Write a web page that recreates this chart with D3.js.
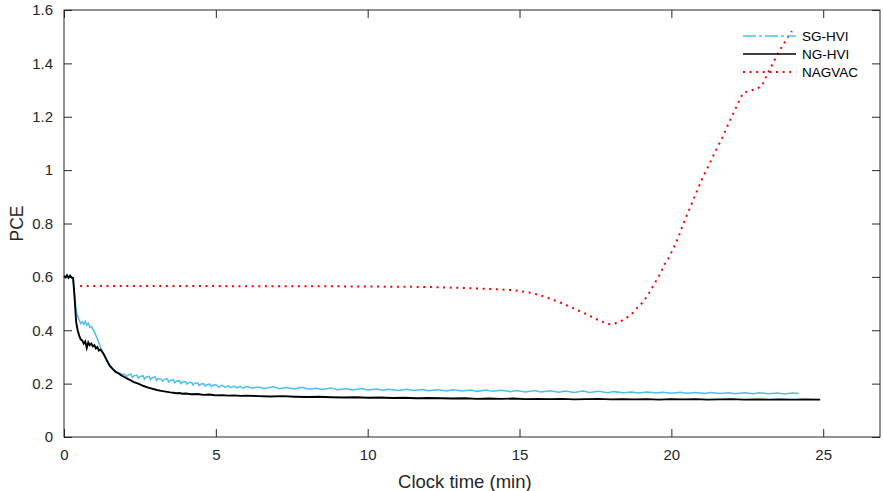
<!DOCTYPE html>
<html>
<head>
<meta charset="utf-8">
<script src="https://cdn.jsdelivr.net/npm/d3@7"></script>
<style>
  body { margin: 0; background: #fff; }
  svg { font-family: "Liberation Sans", Arial, sans-serif; }
  .axis text { fill: #262626; font-size: 15px; }
  .axis path, .axis line { stroke: #262626; }
</style>
</head>
<body>
<div class="chart-container"></div>
<script>
// [time (min), PCE]
var sgHvi = [
  [0.0,0.602],[0.1,0.597],[0.2,0.603],[0.3,0.590],[0.4,0.470],[0.5,0.438],[0.55,0.425],[0.6,0.432],
  [0.65,0.422],[0.7,0.434],[0.75,0.418],[0.8,0.426],[0.85,0.412],[0.9,0.414],[1.0,0.394],[1.1,0.368],
  [1.2,0.336],[1.3,0.312],[1.4,0.288],[1.5,0.266],[1.6,0.255],[1.7,0.246],[1.8,0.241],[1.9,0.236],
  [2.0,0.234],[2.05,0.226],[2.1,0.231],[2.2,0.236],[2.25,0.223],[2.3,0.229],[2.4,0.232],[2.45,0.220],
  [2.5,0.226],[2.6,0.230],[2.65,0.217],[2.7,0.224],[2.8,0.227],[2.85,0.215],[2.9,0.222],[3.0,0.225],
  [3.05,0.212],[3.1,0.219],[3.2,0.217],[3.25,0.209],[3.3,0.216],[3.4,0.218],[3.45,0.206],[3.5,0.212],
  [3.6,0.214],[3.65,0.203],[3.7,0.209],[3.8,0.211],[3.85,0.200],[3.9,0.206],[4.0,0.208],[4.05,0.198],
  [4.1,0.203],[4.2,0.205],[4.25,0.195],[4.3,0.201],[4.4,0.203],[4.45,0.193],[4.5,0.198],[4.6,0.200],
  [4.65,0.191],[4.7,0.196],[4.8,0.198],[4.85,0.189],[4.9,0.194],[5.0,0.196],[5.1,0.187],[5.2,0.194],
  [5.3,0.186],[5.4,0.192],[5.5,0.185],[5.6,0.191],[5.7,0.184],[5.8,0.190],[5.9,0.183],[6.0,0.189],
  [6.2,0.184],[6.4,0.187],[6.6,0.182],[6.9,0.188],[7.1,0.181],[7.3,0.185],[7.6,0.180],[7.8,0.186],
  [8.1,0.179],[8.3,0.183],[8.5,0.178],[8.8,0.184],[9.0,0.177],[9.3,0.181],[9.5,0.176],[9.8,0.182],
  [10.0,0.176],[10.3,0.180],[10.5,0.175],[10.7,0.179],[11.0,0.174],[11.3,0.179],[11.5,0.174],[11.8,0.178],
  [12.0,0.173],[12.3,0.177],[12.6,0.172],[12.8,0.177],[13.1,0.172],[13.4,0.176],[13.6,0.171],[13.9,0.176],
  [14.1,0.171],[14.4,0.175],[14.7,0.170],[14.9,0.174],[15.2,0.169],[15.5,0.174],[15.7,0.169],[16.0,0.173],
  [16.3,0.168],[16.5,0.172],[16.8,0.167],[17.1,0.172],[17.3,0.167],[17.6,0.171],[17.9,0.166],[18.1,0.170],
  [18.4,0.166],[18.7,0.169],[18.9,0.165],[19.2,0.169],[19.5,0.165],[19.7,0.168],[20.0,0.164],[20.3,0.168],
  [20.5,0.164],[20.8,0.167],[21.1,0.163],[21.3,0.167],[21.6,0.163],[21.9,0.166],[22.1,0.162],[22.4,0.166],
  [22.7,0.162],[22.9,0.166],[23.2,0.162],[23.5,0.165],[23.7,0.161],[24.0,0.165],[24.2,0.163]
];

var ngHvi = [
  [0.0,0.604],[0.05,0.598],[0.1,0.606],[0.15,0.597],[0.2,0.605],[0.25,0.598],[0.3,0.596],[0.35,0.520],
  [0.4,0.430],[0.45,0.400],[0.5,0.380],[0.55,0.366],[0.6,0.362],[0.65,0.350],[0.7,0.358],[0.75,0.334],
  [0.8,0.354],[0.85,0.344],[0.9,0.350],[0.95,0.340],[1.0,0.344],[1.05,0.332],[1.1,0.337],[1.15,0.324],
  [1.2,0.328],[1.3,0.312],[1.4,0.290],[1.5,0.268],[1.6,0.255],[1.7,0.244],[1.8,0.238],[1.9,0.230],
  [2.0,0.224],[2.1,0.218],[2.2,0.212],[2.3,0.206],[2.4,0.202],[2.5,0.197],[2.6,0.192],[2.7,0.188],
  [2.8,0.184],[2.9,0.181],[3.0,0.178],[3.1,0.175],[3.2,0.173],[3.3,0.171],[3.4,0.169],[3.5,0.167],
  [3.6,0.166],[3.7,0.164],[3.8,0.165],[3.9,0.162],[4.0,0.163],[4.2,0.160],[4.4,0.161],[4.6,0.158],
  [4.8,0.159],[5.0,0.156],[5.2,0.157],[5.4,0.155],[5.6,0.156],[5.8,0.154],[6.0,0.155],
  [6.4,0.153],[6.8,0.152],[7.2,0.153],[7.6,0.151],[8.0,0.150],[8.4,0.151],[8.8,0.149],[9.2,0.148],
  [9.6,0.149],[10.0,0.147],[10.4,0.148],[10.8,0.146],[11.2,0.147],[11.6,0.145],[12.0,0.146],[12.4,0.145],
  [12.8,0.144],[13.2,0.145],[13.6,0.143],[14.0,0.144],[14.4,0.143],[14.8,0.144],[15.2,0.142],[15.6,0.143],
  [16.0,0.142],[16.4,0.143],[16.8,0.141],[17.2,0.142],[17.6,0.143],[18.0,0.141],[18.4,0.142],[18.8,0.141],
  [19.2,0.142],[19.6,0.140],[20.0,0.142],[20.4,0.141],[20.8,0.142],[21.2,0.140],[21.6,0.141],[22.0,0.142],
  [22.4,0.140],[22.8,0.141],[23.2,0.140],[23.6,0.141],[24.0,0.140],[24.4,0.141],[24.9,0.140]
];

var nagvac = [
  [0.53,0.566],[2,0.566],[4,0.566],[6,0.565],[8,0.565],[10,0.564],[11,0.563],[12,0.562],
  [13,0.559],[14,0.555],[14.8,0.550],[15.4,0.540],[15.8,0.527],[16.2,0.510],[16.46,0.498],[16.69,0.487],
  [16.89,0.476],[17.12,0.465],[17.32,0.453],[17.52,0.442],[17.75,0.431],[17.95,0.423],[18.1,0.424],[18.3,0.432],
  [18.5,0.444],[18.74,0.466],[18.9,0.487],[19.07,0.506],[19.2,0.528],[19.33,0.551],[19.43,0.573],[19.56,0.596],
  [19.66,0.618],[19.76,0.644],[19.89,0.667],[19.99,0.689],[20.2,0.74],[20.4,0.80],[20.6,0.855],[20.8,0.91],
  [21.06,0.979],[21.27,1.027],[21.47,1.075],[21.67,1.12],[21.86,1.169],[22.06,1.218],[22.26,1.266],[22.36,1.289],
  [22.55,1.296],[22.79,1.304],[22.98,1.315],[23.08,1.341],[23.28,1.386],[23.48,1.431],[23.61,1.457],[23.84,1.499],
  [23.97,1.521]
];

var xTicks = [0, 5, 10, 15, 20, 25];
var yTicks = [0, 0.2, 0.4, 0.6, 0.8, 1, 1.2, 1.4, 1.6];
var seriesNames = ['SG-HVI', 'NG-HVI', 'NAGVAC'];

var margin = {top: 10, right: 3, bottom: 54, left: 64};
var width = 883 - margin.left - margin.right;
var height = 491 - margin.top - margin.bottom;

var x = d3.scaleLinear().domain([0, 26.87]).range([margin.left, margin.left + width]);
var y = d3.scaleLinear().domain([0, 1.6]).range([margin.top + height, margin.top]);

var svg = d3.select('.chart-container').append('svg')
  .attr('width', 883)
  .attr('height', 491);

var line = d3.line()
  .x(d => x(d[0]))
  .y(d => y(d[1]));

var tickLen = 8;

// axes, ticks pointing inward, mirrored on top/right
var gX = svg.append('g').attr('class', 'axis')
  .attr('transform', `translate(0,${margin.top + height})`)
  .call(d3.axisBottom(x).tickValues(xTicks).tickSizeInner(-tickLen).tickSizeOuter(0).tickPadding(12));
var gXt = svg.append('g').attr('class', 'axis')
  .attr('transform', `translate(0,${margin.top})`)
  .call(d3.axisTop(x).tickValues(xTicks).tickSizeInner(-tickLen).tickSizeOuter(0).tickFormat(''));
var gY = svg.append('g').attr('class', 'axis')
  .attr('transform', `translate(${margin.left},0)`)
  .call(d3.axisLeft(y).tickValues(yTicks).tickSizeInner(-tickLen).tickSizeOuter(0).tickPadding(11).tickFormat(d3.format('~g')));
var gYr = svg.append('g').attr('class', 'axis')
  .attr('transform', `translate(${margin.left + width},0)`)
  .call(d3.axisRight(y).tickValues(yTicks).tickSizeInner(-tickLen).tickSizeOuter(0).tickFormat(''));
svg.selectAll('.axis path.domain').remove();

svg.append('rect')
  .attr('x', margin.left).attr('y', margin.top)
  .attr('width', width).attr('height', height)
  .attr('fill', 'none').attr('stroke', '#262626');

svg.append('path').datum(sgHvi)
  .attr('d', line)
  .attr('fill', 'none')
  .attr('stroke', '#4DBEEE')
  .attr('stroke-width', 1.5);

svg.append('path').datum(ngHvi)
  .attr('d', line)
  .attr('fill', 'none')
  .attr('stroke', '#000')
  .attr('stroke-width', 1.9);

svg.append('path').datum(nagvac)
  .attr('d', line)
  .attr('fill', 'none')
  .attr('stroke', '#FF0000')
  .attr('stroke-width', 2)
  .attr('stroke-dasharray', '2,4.6');

// labels
svg.append('text')
  .attr('x', x(13.2)).attr('y', 488)
  .attr('text-anchor', 'middle')
  .attr('fill', '#262626').attr('font-size', 18.5)
  .text('Clock time (min)');

svg.append('text')
  .attr('transform', `translate(23,${y(0.8)}) rotate(-90)`)
  .attr('text-anchor', 'middle')
  .attr('fill', '#262626').attr('font-size', 17.5)
  .text('PCE');

// legend
var legendStyles = [
  {stroke: '#4DBEEE', width: 1.3, dash: '13,3,3,3'},
  {stroke: '#000', width: 1.6, dash: null},
  {stroke: '#FF0000', width: 2, dash: '2,4.6'}
];
var legend = svg.append('g').attr('class', 'legend');
seriesNames.forEach(function(name, i) {
  var ly = 36 + i * 18;
  legend.append('line')
    .attr('x1', 743).attr('x2', 796)
    .attr('y1', ly).attr('y2', ly)
    .attr('stroke', legendStyles[i].stroke)
    .attr('stroke-width', legendStyles[i].width)
    .attr('stroke-dasharray', legendStyles[i].dash);
  legend.append('text')
    .attr('x', 802).attr('y', ly + 5)
    .attr('font-size', 13.5)
    .attr('fill', '#000')
    .text(name);
});
</script>
</body>
</html>
